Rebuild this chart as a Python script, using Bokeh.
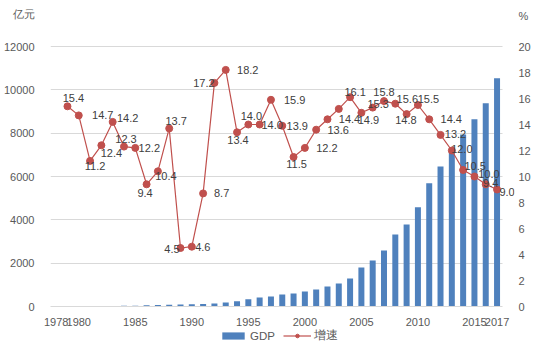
import math
from bokeh.plotting import figure
from bokeh.layouts import column
from bokeh.models import (Range1d, LinearAxis, FixedTicker, Legend, LegendItem,
                          ColumnDataSource)
from bokeh.core.properties import value
from bokeh.embed import file_html
from bokeh.resources import INLINE

# ---- data ----
years = list(range(1978, 2018))
gdp = [17, 19, 21, 22, 24, 27, 31, 36, 58, 66,
       78, 92, 100, 112, 140, 190, 245, 340, 420, 460,
       555, 600, 690, 785, 925, 1060, 1290, 1800, 2120, 2585,
       3320, 3785, 4580, 5690, 6460, 7190, 7940, 8645, 9385, 10540]
growth = [float("nan"), 15.4, 14.7, 11.2, 12.4, 14.2, 12.3, 12.2, 9.4, 10.4,
          13.7, 4.5, 4.6, 8.7, 17.2, 18.2, 13.4, 14.0, 14.0, 15.9,
          13.9, 11.5, 12.2, 13.6, 14.4, 15.2, 16.1, 14.9, 15.3, 15.8,
          15.6, 14.8, 15.5, 14.4, 13.2, 12.0, 10.5, 10.0, 9.4, 9.0]
tick_years = [1978, 1980, 1985, 1990, 1995, 2000, 2005, 2010, 2015, 2017]
left_ticks = [0, 2000, 4000, 6000, 8000, 10000, 12000]
right_ticks = [0, 2, 4, 6, 8, 10, 12, 14, 16, 18, 20]
series_names = ["GDP", "增速"]
unit_left = "亿元"
unit_right = "%"

# label placement (screen px offsets of each data label from its point)
label_offsets = {
    1979: (6, -8), 1980: (24, 0), 1981: (5, 5.5), 1982: (10, 8), 1983: (15, -3.5),
    1984: (2, -8), 1985: (14, 0), 1986: (-1.5, 9), 1987: (8, 5), 1988: (7, -7),
    1989: (-8.5, 1), 1990: (11, 0), 1991: (18.5, 0), 1992: (-10.5, 0), 1993: (22, 0),
    1994: (1, 8), 1995: (3, -9), 1996: (12.5, 0), 1997: (23.7, 0), 1998: (15, 0),
    1999: (3, 6.5), 2000: (22, 0), 2001: (22, 0), 2002: (22, 0),
    2004: (5, -5), 2005: (7, 7), 2006: (5.4, -3.3), 2007: (0, -9.5), 2008: (12, -5),
    2009: (-0.7, 5.5), 2010: (10.5, -6), 2011: (22, 0), 2012: (15, -1), 2013: (10, -1.5),
    2014: (12, -4.5), 2015: (14.5, -2.7), 2016: (5, -1), 2017: (10, 2.5),
}

src = ColumnDataSource(dict(year=years, gdp=gdp, growth=growth))
lab_years = [y for y in years if y in label_offsets]
lab_vals = [growth[years.index(y)] for y in lab_years]
lab_src = ColumnDataSource(dict(
    year=lab_years, growth=lab_vals,
    lab=["%.1f" % v for v in lab_vals],
    dx=[label_offsets[y][0] for y in lab_years],
    dy=[label_offsets[y][1] for y in lab_years],
))

FONT = "Liberation Sans"
GRAY = "#595959"
BLUE = "#4F81BD"
RED = "#C0504D"
W = 538

# ---- geometry (pixels) ----
PLOT_H = 260          # height of the 0..12000 band
TOP_PAD = 46          # room above it for the unit captions
EXTRA_R = 12          # room right of the last category for its data label
px_per_year = 460 / len(years)
y_top = left_ticks[-1] * (PLOT_H + TOP_PAD) / PLOT_H
r_top = right_ticks[-1] * (PLOT_H + TOP_PAD) / PLOT_H
x_lo, x_hi = years[0] - 0.5, years[-1] + 0.5
# caption positions expressed on each axis scale (13.5 px / 16 px below top)
cap_left = y_top * (1 - 13.5 / (PLOT_H + TOP_PAD))
cap_right = round(r_top * (1 - 16 / (PLOT_H + TOP_PAD)), 2)

p = figure(width=W, height=PLOT_H + TOP_PAD + 22, output_backend="svg",
           toolbar_location=None,
           x_range=Range1d(x_lo, x_hi + EXTRA_R / px_per_year),
           y_range=Range1d(0, y_top),
           min_border_left=42, min_border_right=36 - EXTRA_R, min_border_top=0,
           min_border_bottom=22)
p.outline_line_color = None
p.extra_y_ranges = {"pct": Range1d(0, r_top)}

p.vbar(x="year", top="gdp", width=0.53, source=src,
       fill_color=BLUE, line_color=None)
p.line(x="year", y="growth", source=src, y_range_name="pct",
       line_color=RED, line_width=1.2)
p.scatter(x="year", y="growth", source=src, y_range_name="pct",
          size=7, fill_color=RED, line_color=RED)
p.text(x="year", y="growth", text="lab", source=lab_src, y_range_name="pct",
       x_offset="dx", y_offset="dy", text_align="center", text_baseline="middle",
       text_font=value(FONT), text_font_size="11px", text_color="#404040")

p.xgrid.grid_line_color = None
g = p.ygrid[0]
g.grid_line_color = "#D9D9D9"
g.ticker = FixedTicker(ticks=left_ticks)
if "cross_bounds" in g.properties():
    g.cross_bounds = (x_lo, x_hi)

xa = p.xaxis[0]
xa.ticker = FixedTicker(ticks=tick_years)
xa.bounds = (x_lo, x_hi)
xa.major_tick_line_color = None
xa.minor_tick_line_color = None
xa.axis_line_color = "#D9D9D9"
xa.major_label_text_font = FONT
xa.major_label_text_font_size = "11px"
xa.major_label_text_color = GRAY
xa.major_label_standoff = 5

ya = p.yaxis[0]
ya.ticker = FixedTicker(ticks=left_ticks + [cap_left])
ya.major_label_overrides = {cap_left: unit_left}
ya.axis_line_color = None
ya.major_tick_line_color = None
ya.minor_tick_line_color = None
ya.major_label_text_font = FONT
ya.major_label_text_font_size = "11px"
ya.major_label_text_color = GRAY
ya.major_label_standoff = 10

ra = LinearAxis(y_range_name="pct",
                ticker=FixedTicker(ticks=right_ticks + [cap_right]))
ra.major_label_overrides = {cap_right: unit_right}
ra.axis_line_color = None
ra.major_tick_line_color = None
ra.minor_tick_line_color = None
ra.major_label_text_font = FONT
ra.major_label_text_font_size = "11px"
ra.major_label_text_color = GRAY
ra.major_label_standoff = 10 - EXTRA_R
p.add_layout(ra, "right")

# ---- legend strip (series keys; the series themselves lie outside its view) ----
foot = figure(frame_width=W, frame_height=16, output_backend="svg",
              toolbar_location=None,
              x_range=Range1d(0, 1), y_range=Range1d(0, 1),
              x_axis_location=None, y_axis_location=None, min_border=0)
foot.outline_line_color = None
foot.grid.grid_line_color = None
k_bar = foot.vbar(x="year", top="gdp", width=0.53, source=src,
                  fill_color=BLUE, line_color=None)
k_line = foot.line(x="year", y="growth", source=src, line_color=RED, line_width=1.2)
k_pts = foot.scatter(x="year", y="growth", source=src, size=7,
                     fill_color=RED, line_color=RED)
legend = Legend(items=[LegendItem(label=series_names[0], renderers=[k_bar]),
                       LegendItem(label=series_names[1], renderers=[k_line, k_pts])],
                orientation="horizontal", location=(219, 1),
                border_line_color=None, background_fill_alpha=0,
                padding=0, margin=0, spacing=8, glyph_width=28, glyph_height=9,
                label_height=14, label_standoff=3,
                label_text_font=FONT, label_text_font_size="11.5px",
                label_text_color=GRAY)
foot.add_layout(legend, "center")

layout = column(p, foot, spacing=0)
open("out.html", "w").write(file_html(layout, INLINE))
